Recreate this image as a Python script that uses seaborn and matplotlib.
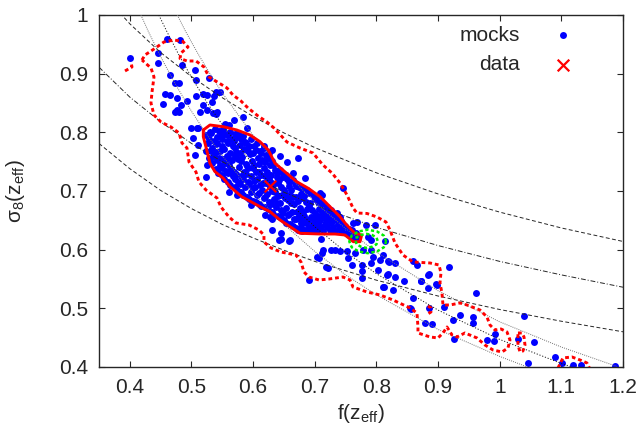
"""f - sigma8 plane: mocks against data, with contours and degeneracy curves

"""

import matplotlib
matplotlib.use("Agg")
import matplotlib.pyplot as plt
from matplotlib.ticker import FormatStrFormatter, MultipleLocator
import seaborn as sns
import pandas as pd

# mocks in the dense core (f, sigma8)
mocks_core = [
    (0.523, 0.768), (0.527, 0.781), (0.524, 0.795), (0.528, 0.757),
    (0.533, 0.747), (0.536, 0.760), (0.534, 0.774), (0.537, 0.786), (0.532, 0.799), (0.538, 0.806),
    (0.543, 0.731), (0.546, 0.744), (0.544, 0.757), (0.547, 0.769), (0.542, 0.781), (0.548, 0.793), (0.545, 0.803),
    (0.553, 0.721), (0.556, 0.734), (0.554, 0.748), (0.557, 0.760), (0.552, 0.772), (0.558, 0.785), (0.555, 0.797), (0.551, 0.806),
    (0.563, 0.711), (0.567, 0.725), (0.564, 0.738), (0.566, 0.752), (0.562, 0.764), (0.568, 0.776), (0.565, 0.789), (0.563, 0.801),
    (0.574, 0.702), (0.576, 0.716), (0.573, 0.729), (0.577, 0.741), (0.575, 0.755), (0.572, 0.767), (0.578, 0.779), (0.574, 0.792), (0.576, 0.799),
    (0.584, 0.694), (0.587, 0.707), (0.583, 0.720), (0.586, 0.733), (0.588, 0.746), (0.582, 0.758), (0.585, 0.771), (0.587, 0.784), (0.584, 0.794),
    (0.593, 0.686), (0.597, 0.699), (0.594, 0.712), (0.596, 0.726), (0.592, 0.739), (0.598, 0.751), (0.595, 0.763), (0.593, 0.777), (0.597, 0.789),
    (0.604, 0.681), (0.606, 0.694), (0.603, 0.707), (0.607, 0.720), (0.605, 0.733), (0.602, 0.745), (0.608, 0.757), (0.604, 0.770), (0.606, 0.782),
    (0.613, 0.675), (0.617, 0.688), (0.614, 0.701), (0.616, 0.714), (0.612, 0.727), (0.618, 0.739), (0.615, 0.752), (0.613, 0.764), (0.617, 0.773),
    (0.624, 0.669), (0.626, 0.682), (0.623, 0.695), (0.627, 0.707), (0.625, 0.720), (0.622, 0.733), (0.628, 0.745), (0.624, 0.757), (0.626, 0.764),
    (0.633, 0.660), (0.637, 0.673), (0.634, 0.686), (0.636, 0.699), (0.632, 0.711), (0.638, 0.724), (0.635, 0.736), (0.633, 0.745),
    (0.644, 0.655), (0.646, 0.668), (0.643, 0.680), (0.647, 0.693), (0.645, 0.706), (0.642, 0.718), (0.648, 0.729), (0.644, 0.735),
    (0.653, 0.646), (0.657, 0.659), (0.654, 0.671), (0.656, 0.684), (0.652, 0.697), (0.658, 0.709), (0.655, 0.721), (0.653, 0.727),
    (0.664, 0.640), (0.666, 0.652), (0.663, 0.665), (0.667, 0.677), (0.665, 0.690), (0.662, 0.702), (0.668, 0.713), (0.664, 0.719),
    (0.673, 0.634), (0.677, 0.646), (0.674, 0.658), (0.676, 0.671), (0.672, 0.683), (0.678, 0.695), (0.675, 0.707),
    (0.684, 0.633), (0.686, 0.645), (0.683, 0.657), (0.687, 0.669), (0.685, 0.681), (0.682, 0.692), (0.688, 0.701),
    (0.693, 0.632), (0.697, 0.644), (0.694, 0.656), (0.696, 0.668), (0.692, 0.680), (0.698, 0.692),
    (0.704, 0.633), (0.706, 0.645), (0.703, 0.657), (0.707, 0.669), (0.705, 0.681), (0.702, 0.688),
    (0.713, 0.632), (0.717, 0.644), (0.714, 0.656), (0.716, 0.667), (0.712, 0.677),
    (0.724, 0.633), (0.726, 0.645), (0.723, 0.656), (0.727, 0.667),
    (0.733, 0.632), (0.737, 0.643), (0.734, 0.654), (0.736, 0.662),
    (0.744, 0.630), (0.746, 0.641), (0.743, 0.649),
    (0.754, 0.626), (0.756, 0.636),
    (0.763, 0.620), (0.767, 0.628),
    (0.530, 0.754), (0.531, 0.768), (0.529, 0.788), (0.530, 0.801),
    (0.540, 0.738), (0.541, 0.752), (0.539, 0.766), (0.540, 0.780), (0.541, 0.792),
    (0.550, 0.727), (0.549, 0.740), (0.551, 0.754), (0.550, 0.776), (0.549, 0.789), (0.550, 0.800),
    (0.560, 0.716), (0.559, 0.730), (0.561, 0.744), (0.560, 0.757), (0.559, 0.782), (0.560, 0.795),
    (0.570, 0.707), (0.571, 0.720), (0.569, 0.733), (0.570, 0.760), (0.571, 0.773), (0.569, 0.786), (0.570, 0.797),
    (0.580, 0.699), (0.579, 0.712), (0.581, 0.725), (0.580, 0.751), (0.579, 0.764), (0.581, 0.788),
    (0.590, 0.690), (0.591, 0.716), (0.589, 0.729), (0.590, 0.743), (0.591, 0.769), (0.589, 0.782),
    (0.600, 0.683), (0.599, 0.705), (0.601, 0.717), (0.600, 0.740), (0.599, 0.764), (0.601, 0.776),
    (0.610, 0.678), (0.609, 0.697), (0.611, 0.710), (0.610, 0.733), (0.609, 0.746), (0.611, 0.768),
    (0.620, 0.672), (0.619, 0.690), (0.621, 0.713), (0.620, 0.726), (0.619, 0.750), (0.621, 0.761),
    (0.630, 0.664), (0.629, 0.677), (0.631, 0.700), (0.630, 0.714), (0.629, 0.727), (0.631, 0.751),
    (0.640, 0.658), (0.639, 0.679), (0.641, 0.692), (0.640, 0.714), (0.639, 0.731),
    (0.650, 0.650), (0.649, 0.663), (0.651, 0.688), (0.650, 0.702), (0.649, 0.724),
    (0.660, 0.643), (0.659, 0.660), (0.661, 0.679), (0.660, 0.694), (0.659, 0.716),
    (0.670, 0.637), (0.669, 0.652), (0.671, 0.664), (0.670, 0.689), (0.669, 0.708),
    (0.680, 0.631), (0.679, 0.651), (0.681, 0.664), (0.680, 0.688), (0.679, 0.703),
    (0.690, 0.638), (0.689, 0.650), (0.691, 0.674), (0.690, 0.697),
    (0.700, 0.638), (0.699, 0.651), (0.701, 0.663), (0.700, 0.686),
    (0.710, 0.639), (0.709, 0.650), (0.711, 0.662), (0.710, 0.681),
    (0.720, 0.638), (0.719, 0.650), (0.721, 0.661), (0.720, 0.672),
    (0.730, 0.638), (0.729, 0.650), (0.731, 0.661),
    (0.740, 0.636), (0.739, 0.646), (0.741, 0.656),
    (0.750, 0.628), (0.749, 0.640),
    (0.760, 0.624), (0.761, 0.634),
    (0.770, 0.622),
]

# mocks scattered outside the inner contour
mocks_halo = [
    (0.400, 0.926), (0.461, 0.959), (0.481, 0.957), (0.445, 0.935), (0.446, 0.919),
    (0.485, 0.915), (0.506, 0.906), (0.465, 0.897), (0.507, 0.890), (0.528, 0.893),
    (0.473, 0.884), (0.479, 0.884), (0.457, 0.865), (0.465, 0.864), (0.477, 0.858),
    (0.492, 0.853), (0.454, 0.849), (0.483, 0.847), (0.473, 0.835), (0.480, 0.834),
    (0.476, 0.838), (0.507, 0.862), (0.518, 0.865), (0.526, 0.864), (0.537, 0.862),
    (0.540, 0.868), (0.546, 0.869), (0.534, 0.851), (0.518, 0.847), (0.526, 0.838),
    (0.539, 0.832), (0.542, 0.835), (0.569, 0.821), (0.584, 0.826), (0.561, 0.813),
    (0.554, 0.815), (0.511, 0.807), (0.506, 0.761), (0.523, 0.724), (0.631, 0.770),
    (0.514, 0.835), (0.535, 0.833), (0.590, 0.807), (0.500, 0.807), (0.509, 0.807),
    (0.503, 0.790), (0.525, 0.744), (0.511, 0.778),
    (0.617, 0.776), (0.644, 0.759), (0.655, 0.750), (0.673, 0.756), (0.684, 0.722),
    (0.709, 0.696), (0.746, 0.705), (0.711, 0.693), (0.665, 0.730),
    (0.768, 0.648), (0.762, 0.646), (0.783, 0.642), (0.798, 0.642), (0.787, 0.622),
    (0.792, 0.617), (0.791, 0.600), (0.779, 0.600), (0.814, 0.614), (0.765, 0.594),
    (0.733, 0.600), (0.763, 0.622), (0.730, 0.651), (0.811, 0.591),
    (0.561, 0.699), (0.574, 0.693), (0.596, 0.676), (0.620, 0.659), (0.631, 0.652),
    (0.631, 0.634), (0.645, 0.628), (0.642, 0.617), (0.659, 0.614), (0.677, 0.639),
    (0.696, 0.634), (0.710, 0.619), (0.707, 0.585), (0.712, 0.594), (0.718, 0.571),
    (0.690, 0.548), (0.627, 0.656), (0.646, 0.619), (0.660, 0.617), (0.703, 0.588),
    (0.714, 0.600), (0.727, 0.600), (0.752, 0.597), (0.795, 0.588),
    (0.722, 0.568), (0.741, 0.597), (0.754, 0.585), (0.760, 0.574), (0.776, 0.574),
    (0.776, 0.563), (0.776, 0.551), (0.792, 0.577), (0.803, 0.565), (0.806, 0.582),
    (0.819, 0.580), (0.830, 0.577), (0.817, 0.557), (0.830, 0.554), (0.811, 0.537),
    (0.827, 0.531), (0.844, 0.546), (0.860, 0.580), (0.866, 0.574), (0.884, 0.557),
    (0.873, 0.546), (0.884, 0.534), (0.898, 0.540), (0.917, 0.571), (0.860, 0.517),
    (0.855, 0.500), (0.885, 0.500), (0.910, 0.502), (0.879, 0.475), (0.890, 0.473),
    (0.925, 0.480), (0.936, 0.489), (0.957, 0.486), (0.957, 0.475), (0.926, 0.447),
    (0.962, 0.526), (0.979, 0.446), (0.990, 0.445), (0.992, 0.456), (1.030, 0.447),
    (1.039, 0.487), (1.055, 0.443), (1.046, 0.407), (1.090, 0.417), (1.101, 0.407),
    (1.119, 0.403), (1.132, 0.403), (1.187, 0.402), (0.821, 0.579), (0.885, 0.559),
    (0.818, 0.559), (0.872, 0.546), (0.897, 0.541), (0.812, 0.537), (0.856, 0.499),
]

data_f = [0.628]
data_s8 = [0.709]

# gently sloping degeneracy curves
curve_f = [0.35, 0.40, 0.45, 0.50, 0.55, 0.60, 0.65, 0.70, 0.80, 0.90, 1.00, 1.10, 1.20]
curve_hi_s8 = [1.043, 0.985, 0.936, 0.895, 0.859, 0.827, 0.799, 0.774, 0.731, 0.695, 0.664, 0.637, 0.614]
curve_mid_s8 = [0.911, 0.860, 0.818, 0.781, 0.750, 0.723, 0.698, 0.676, 0.638, 0.607, 0.580, 0.557, 0.536]
curve_lo_s8 = [0.781, 0.738, 0.701, 0.670, 0.643, 0.620, 0.599, 0.580, 0.548, 0.521, 0.498, 0.478, 0.460]

# steep dotted curves
dot_lo_f = [0.418, 0.43, 0.45, 0.475, 0.50, 0.525, 0.55, 0.60, 0.65, 0.70, 0.75, 0.80, 0.90, 1.00, 1.045]
dot_lo_s8 = [1.000, 0.972, 0.929, 0.880, 0.836, 0.796, 0.760, 0.697, 0.643, 0.597, 0.557, 0.523, 0.464, 0.418, 0.400]
dot_mid_f = [0.447, 0.46, 0.48, 0.50, 0.525, 0.55, 0.60, 0.65, 0.70, 0.75, 0.80, 0.90, 1.00, 1.10, 1.1175]
dot_mid_s8 = [1.000, 0.972, 0.931, 0.894, 0.851, 0.813, 0.745, 0.688, 0.639, 0.596, 0.559, 0.497, 0.447, 0.406, 0.400]
dot_hi_f = [0.477, 0.49, 0.51, 0.53, 0.55, 0.60, 0.65, 0.70, 0.75, 0.80, 0.90, 1.00, 1.10, 1.19]
dot_hi_s8 = [1.000, 0.973, 0.935, 0.900, 0.867, 0.795, 0.734, 0.681, 0.636, 0.596, 0.530, 0.477, 0.434, 0.401]

# outer (dashed red) contour of the mocks
outer_f = [
    0.4197, 0.4246, 0.4392, 0.4554, 0.4717, 0.4862, 0.4944, 0.4830, 0.4814, 0.4927,
    0.5073, 0.5203, 0.5284, 0.5446, 0.5576, 0.5673, 0.5803, 0.5917, 0.6079, 0.6225,
    0.6338, 0.6549, 0.6760, 0.6971, 0.7133, 0.7279, 0.7409, 0.7523, 0.7620, 0.7685,
    0.7847, 0.8009, 0.8155, 0.8220, 0.8301, 0.8431, 0.8593, 0.8869, 0.9015, 0.9047,
    0.9031, 0.9063, 0.9080, 0.9193, 0.9355, 0.9469, 0.9680, 0.9793, 0.9842, 0.9923,
    1.0021, 1.0118, 1.0167, 1.0134, 1.0037, 0.9891, 0.9761, 0.9631, 0.9436, 0.9307,
    0.9226, 0.9145, 0.9080, 0.8999, 0.8869, 0.8674, 0.8674, 0.8658, 0.8545, 0.8269,
    0.8058, 0.7847, 0.7620, 0.7571, 0.7458, 0.7231, 0.7069, 0.6906, 0.6825, 0.6777,
    0.6695, 0.6452, 0.6290, 0.6176, 0.6176, 0.6095, 0.5933, 0.5722, 0.5609, 0.5479,
    0.5414, 0.5236, 0.5122, 0.5073, 0.4960, 0.4927, 0.4846, 0.4798, 0.4668, 0.4506,
    0.4392, 0.4343, 0.4360, 0.4392, 0.4343, 0.4197,
]
outer_s8 = [
    0.9233, 0.9318, 0.9420, 0.9540, 0.9574, 0.9548, 0.9455, 0.9352, 0.9259, 0.9216,
    0.9216, 0.9114, 0.8943, 0.8841, 0.8756, 0.8636, 0.8534, 0.8415, 0.8279, 0.8176,
    0.8074, 0.7835, 0.7733, 0.7648, 0.7443, 0.7307, 0.7137, 0.6932, 0.6710, 0.6625,
    0.6617, 0.6557, 0.6472, 0.6336, 0.6114, 0.5909, 0.5790, 0.5773, 0.5739, 0.5603,
    0.5432, 0.5262, 0.5057, 0.5057, 0.5091, 0.5057, 0.4972, 0.4853, 0.4716, 0.4631,
    0.4648, 0.4597, 0.4461, 0.4324, 0.4256, 0.4290, 0.4375, 0.4495, 0.4580, 0.4512,
    0.4546, 0.4682, 0.4580, 0.4495, 0.4512, 0.4580, 0.4682, 0.4921, 0.5006, 0.5142,
    0.5228, 0.5279, 0.5364, 0.5483, 0.5534, 0.5500, 0.5483, 0.5534, 0.5620, 0.5790,
    0.5909, 0.5960, 0.6029, 0.6131, 0.6250, 0.6335, 0.6421, 0.6455, 0.6557, 0.6727,
    0.6881, 0.7017, 0.7154, 0.7324, 0.7494, 0.7733, 0.7818, 0.7989, 0.8091, 0.8176,
    0.8296, 0.8500, 0.8688, 0.8943, 0.9097, 0.9233,
]

# small islands of the outer contour
islands = [
    ([0.3922, 0.4035, 0.4019], [0.9046, 0.9114, 0.9199]),
    ([1.0296, 1.0361, 1.0394, 1.0410, 1.0377, 1.0329, 1.0296, 1.0296, 1.0296],
     [0.4580, 0.4580, 0.4512, 0.4375, 0.4273, 0.4256, 0.4375, 0.4512, 0.4580]),
    ([1.0945, 1.1026, 1.1172, 1.1302, 1.1415, 1.1464],
     [0.3983, 0.4154, 0.4171, 0.4120, 0.4069, 0.3966]),
    ([0.8837, 0.8885, 0.8885, 0.8837], [0.5040, 0.5006, 0.4938, 0.4904]),
]

# inner (solid red) contour
inner_f = [
    0.5192, 0.5300, 0.5516, 0.5734, 0.5949, 0.6112, 0.6246, 0.6355, 0.6545, 0.6707,
    0.6895, 0.7085, 0.7247, 0.7409, 0.7518, 0.7652, 0.7761, 0.7734, 0.7625, 0.7490,
    0.7328, 0.7085, 0.6760, 0.6598, 0.6436, 0.6274, 0.6112, 0.5815, 0.5625, 0.5516,
    0.5382, 0.5300, 0.5247, 0.5192, 0.5192,
]
inner_s8 = [
    0.8040, 0.8125, 0.8096, 0.8040, 0.7955, 0.7840, 0.7700, 0.7472, 0.7302, 0.7159,
    0.7046, 0.6903, 0.6733, 0.6562, 0.6421, 0.6279, 0.6250, 0.6136, 0.6136, 0.6250,
    0.6267, 0.6267, 0.6279, 0.6392, 0.6506, 0.6647, 0.6733, 0.6903, 0.7074, 0.7217,
    0.7329, 0.7472, 0.7700, 0.7926, 0.8040,
]

# green contours of the data
green_out_f = [0.816, 0.812, 0.801, 0.786, 0.771, 0.760, 0.756, 0.760, 0.771, 0.786, 0.801, 0.812, 0.816]
green_out_s8 = [0.614, 0.624, 0.631, 0.634, 0.631, 0.624, 0.614, 0.604, 0.597, 0.594, 0.597, 0.604, 0.614]
green_in_f = [0.802, 0.800, 0.793, 0.784, 0.775, 0.768, 0.766, 0.768, 0.775, 0.784, 0.793, 0.800, 0.802]
green_in_s8 = [0.615, 0.621, 0.625, 0.627, 0.625, 0.621, 0.615, 0.609, 0.605, 0.603, 0.605, 0.609, 0.615]


def make_plot():
    sns.set_style("ticks")
    plt.rcParams["font.family"] = ["Liberation Sans", "DejaVu Sans"]
    plt.rcParams["mathtext.fontset"] = "custom"
    plt.rcParams["mathtext.rm"] = "Liberation Sans"
    plt.rcParams["mathtext.it"] = "Liberation Sans:italic"

    fig = plt.figure(figsize=(6.43, 4.37), dpi=100)
    ax = fig.add_axes([99 / 643, 70 / 437, 524 / 643, 352 / 437])

    mocks = pd.DataFrame(mocks_core + mocks_halo, columns=["f", "s8"])
    sns.scatterplot(data=mocks, x="f", y="s8", ax=ax, color="#0000ff",
                    s=25, linewidth=0, label="mocks", zorder=2)

    thin = dict(lw=0.7, zorder=3)
    ax.plot(curve_f, curve_hi_s8, color="0.15", dashes=(4, 2.5), **thin)
    ax.plot(curve_f, curve_mid_s8, color="0.15", dashes=(5, 2, 1, 2), **thin)
    ax.plot(curve_f, curve_lo_s8, color="0.15", dashes=(4, 2.5), **thin)
    ax.plot(dot_lo_f, dot_lo_s8, color="0.45", dashes=(1, 1.2), **thin)
    ax.plot(dot_mid_f, dot_mid_s8, color="0.1", dashes=(1.2, 1.8), **thin)
    ax.plot(dot_hi_f, dot_hi_s8, color="0.45", dashes=(1, 1.2), **thin)

    red_dash = dict(color="#ff0000", lw=2.1, dashes=(1.3, 1.0), zorder=4)
    ax.plot(outer_f, outer_s8, **red_dash)
    for isl_f, isl_s8 in islands:
        ax.plot(isl_f, isl_s8, **red_dash)
    ax.plot(inner_f, inner_s8, color="#ff0000", lw=2.1, zorder=4)

    green_dash = dict(color="#00ee00", lw=1.8, dashes=(1.3, 1.0), zorder=4)
    ax.plot(green_out_f, green_out_s8, **green_dash)
    ax.plot(green_in_f, green_in_s8, **green_dash)

    sns.scatterplot(x=data_f, y=data_s8, ax=ax, color="#ff0000", marker="x",
                    s=70, linewidth=1.6, label="data", zorder=5)

    ax.set_xlim(0.35, 1.2)
    ax.set_ylim(0.4, 1.0)
    ax.xaxis.set_major_locator(MultipleLocator(0.1))
    ax.yaxis.set_major_locator(MultipleLocator(0.1))
    ax.xaxis.set_major_formatter(FormatStrFormatter("%g"))
    ax.yaxis.set_major_formatter(FormatStrFormatter("%g"))
    ax.tick_params(direction="in", top=True, right=True, length=4,
                   width=0.8, labelsize=15, pad=8)
    for spine in ax.spines.values():
        spine.set_linewidth(1.0)
        spine.set_visible(True)

    ax.set_xlabel(r"$\mathregular{f(z_{eff})}$", fontsize=15)
    ax.set_ylabel(r"$\mathregular{\sigma_8(z_{eff})}$", fontsize=15)
    ax.xaxis.set_label_coords(0.5, -0.1)
    ax.yaxis.set_label_coords(-0.137, 0.5)

    ax.legend(loc="upper right", bbox_to_anchor=(0.906, 0.969), markerfirst=False,
              frameon=False, fontsize=15, handlelength=1.0, handletextpad=1.6,
              labelspacing=0.5, borderpad=0, borderaxespad=0)

    fig.savefig("out.png", dpi=100)
    plt.close(fig)


if __name__ == "__main__":
    make_plot()
